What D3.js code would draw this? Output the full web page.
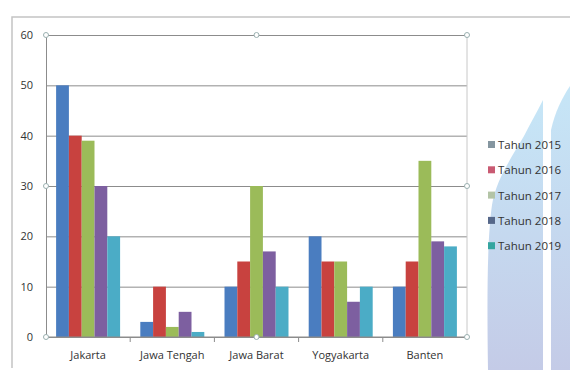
<!DOCTYPE html>
<html>
<head>
<meta charset="utf-8">
<script src="https://cdn.jsdelivr.net/npm/d3@7"></script>
<style>
  body { margin: 0; background: #fff; }
  svg { display: block; }
</style>
</head>
<body>
<div id="chart"></div>
<script>
const categories = ["Jakarta", "Jawa Tengah", "Jawa Barat", "Yogyakarta", "Banten"];
const seriesNames = ["Tahun 2015", "Tahun 2016", "Tahun 2017", "Tahun 2018", "Tahun 2019"];
const tahun2015 = [50, 3, 10, 20, 10];
const tahun2016 = [40, 10, 15, 15, 15];
const tahun2017 = [39, 2, 30, 15, 35];
const tahun2018 = [30, 5, 17, 7, 19];
const tahun2019 = [20, 1, 10, 10, 18];
const yTicks = [0, 10, 20, 30, 40, 50, 60];

const barColors = ["#4a7dc0", "#c8423f", "#9bbb59", "#7d5fa0", "#4bacc6"];
const legendColors = ["#8596a0", "#c95a72", "#b3c4a6", "#56688a", "#35a5a0"];

const width = 570, height = 370;
const plot = { left: 46, right: 467, top: 35, bottom: 337 };

const allSeries = [tahun2015, tahun2016, tahun2017, tahun2018, tahun2019];

const svg = d3.select("#chart").append("svg")
    .attr("width", width)
    .attr("height", height);

// background watermark shapes
const defs = svg.append("defs");
const grad = defs.append("linearGradient")
    .attr("id", "wm")
    .attr("x1", 0).attr("y1", 0).attr("x2", 0).attr("y2", 1);
grad.append("stop").attr("offset", "0%").attr("stop-color", "#c6e6f7");
grad.append("stop").attr("offset", "100%").attr("stop-color", "#c4cbe7");

svg.append("path")
    .attr("d", "M543,100 C537,112 530,124 524,136 C510,160 496,180 492,205 C487,240 487,300 488,370 L543,370 Z")
    .attr("fill", "url(#wm)");
svg.append("path")
    .attr("d", "M551,370 L551,130 C555,112 562,98 570,86 L570,370 Z")
    .attr("fill", "url(#wm)");

// outer frame
svg.append("path")
    .attr("d", "M12,368 L12,17 L570,17")
    .attr("fill", "none")
    .attr("stroke", "#c4c4c4")
    .attr("stroke-width", 1.5);

const x0 = d3.scaleBand()
    .domain(categories)
    .range([plot.left, plot.right])
    .paddingInner(0.24)
    .paddingOuter(0.12);

const step = (plot.right - plot.left) / categories.length;

const x1 = d3.scaleBand()
    .domain(seriesNames)
    .range([0, x0.bandwidth()]);

const y = d3.scaleLinear()
    .domain([0, 60])
    .range([plot.bottom, plot.top]);

// gridlines
svg.append("g")
    .attr("class", "y-grid")
    .attr("transform", `translate(${plot.left},0)`)
    .call(d3.axisLeft(y).tickValues(yTicks).tickSize(-(plot.right - plot.left)).tickFormat(""))
    .call(g => g.select(".domain").remove())
    .call(g => g.selectAll(".tick line").attr("stroke", "#8c8c8c").attr("stroke-width", 1));

// right frame of plot area (selection outline)
svg.append("line")
    .attr("x1", plot.right).attr("x2", plot.right)
    .attr("y1", plot.top).attr("y2", plot.bottom)
    .attr("stroke", "#c8c8c8");

// bars
const rows = categories.map((c, i) => ({
    category: c,
    values: seriesNames.map((s, j) => ({ series: s, value: allSeries[j][i], color: barColors[j] }))
}));

svg.append("g")
    .selectAll("g")
    .data(rows)
    .join("g")
    .attr("transform", d => `translate(${x0(d.category)},0)`)
    .selectAll("rect")
    .data(d => d.values)
    .join("rect")
    .attr("x", d => x1(d.series))
    .attr("y", d => y(d.value))
    .attr("width", x1.bandwidth())
    .attr("height", d => y(0) - y(d.value))
    .attr("fill", d => d.color);

// y axis
svg.append("g")
    .attr("class", "y-axis")
    .attr("transform", `translate(${plot.left},0)`)
    .call(d3.axisLeft(y).tickValues(yTicks).tickSize(0).tickPadding(13))
    .call(g => g.select(".domain").attr("stroke", "#8c8c8c"))
    .call(g => g.selectAll(".tick text")
        .style("font-family", "'Open Sans', sans-serif")
        .style("font-size", "11px")
        .style("fill", "#333"));

// x axis
const xAxis = svg.append("g")
    .attr("class", "x-axis")
    .attr("transform", `translate(0,${plot.bottom})`);
xAxis.append("line")
    .attr("x1", plot.left).attr("x2", plot.right)
    .attr("stroke", "#8c8c8c");
xAxis.selectAll(".sep")
    .data(categories.slice(1))
    .join("line")
    .attr("class", "sep")
    .attr("x1", d => x0(d) - x0.step() * x0.paddingInner() / 2)
    .attr("x2", d => x0(d) - x0.step() * x0.paddingInner() / 2)
    .attr("y1", 0).attr("y2", 5)
    .attr("stroke", "#8c8c8c");
xAxis.selectAll(".lbl")
    .data(categories)
    .join("text")
    .attr("class", "lbl")
    .attr("x", d => x0(d) + x0.bandwidth() / 2)
    .attr("y", 22)
    .attr("text-anchor", "middle")
    .style("font-family", "'Open Sans', sans-serif")
    .style("font-size", "11px")
    .style("fill", "#333")
    .text(d => d);

// selection handles
const handles = [
    [plot.left, plot.top], [(plot.left + plot.right) / 2, plot.top], [plot.right, plot.top],
    [plot.right, (plot.top + plot.bottom) / 2], [plot.right, plot.bottom],
    [(plot.left + plot.right) / 2, plot.bottom], [plot.left, plot.bottom],
    [plot.left, (plot.top + plot.bottom) / 2]
];
svg.append("g")
    .selectAll("circle")
    .data(handles)
    .join("circle")
    .attr("cx", d => d[0])
    .attr("cy", d => d[1])
    .attr("r", 2.5)
    .attr("fill", "#fff")
    .attr("stroke", "#9ab0b0")
    .attr("stroke-width", 1);

// legend
const legend = svg.append("g")
    .attr("transform", "translate(488,145)");
const items = legend.selectAll("g")
    .data(seriesNames)
    .join("g")
    .attr("transform", (d, i) => `translate(0,${i * 25.3})`);
items.append("rect")
    .attr("x", 0).attr("y", -4)
    .attr("width", 7).attr("height", 7)
    .attr("fill", (d, i) => legendColors[i]);
items.append("text")
    .attr("x", 10)
    .attr("y", 4)
    .style("font-family", "'Open Sans', sans-serif")
    .style("font-size", "11.5px")
    .style("fill", "#333")
    .text(d => d);
</script>
</body>
</html>
